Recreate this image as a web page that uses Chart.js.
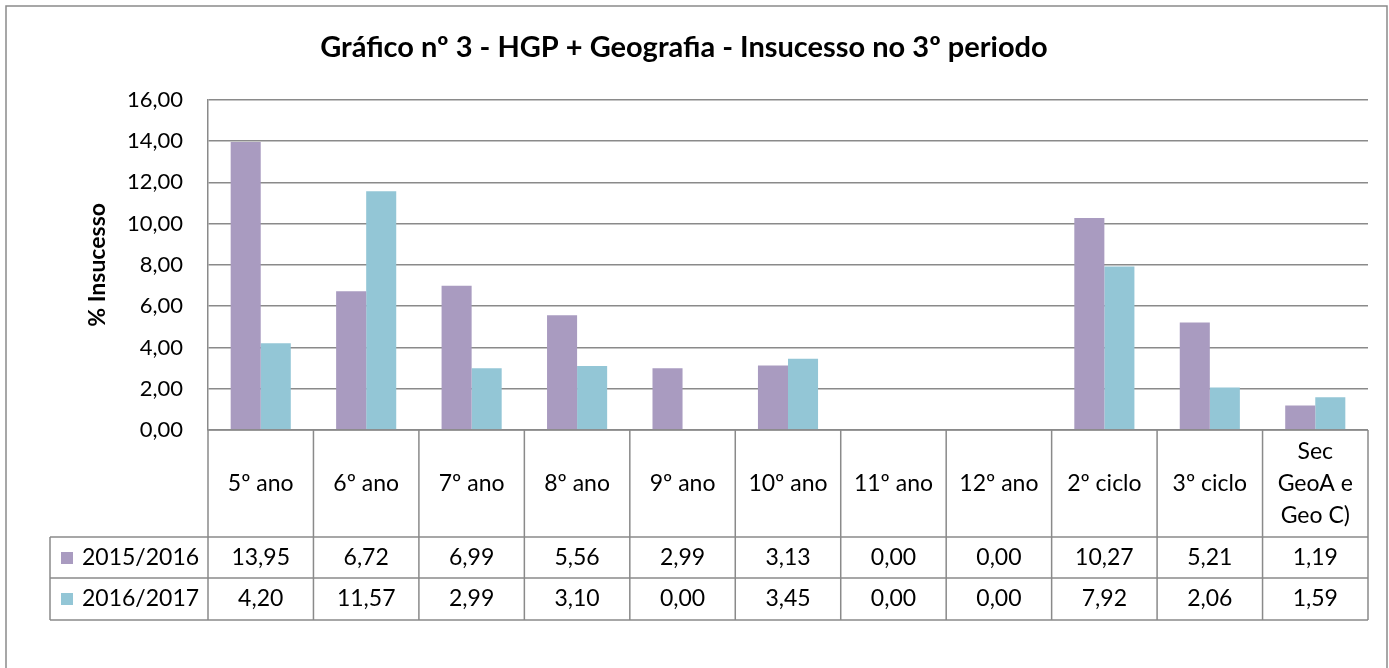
<!DOCTYPE html>
<html lang="pt">
<head>
<meta charset="UTF-8">
<title>Gráfico nº 3 - HGP + Geografia</title>
<style>
    body { margin: 0; padding: 0; background: #fff; }
    .container { width: 1389px; height: 668px; position: relative; }
</style>
</head>
<body>
<div class="container">
    <canvas id="grafico"></canvas>
</div>

<script src="https://cdn.jsdelivr.net/npm/chart.js"></script>
<script>
    const categorias = ['5º ano', '6º ano', '7º ano', '8º ano', '9º ano', '10º ano', '11º ano', '12º ano', '2º ciclo', '3º ciclo', ['Sec', 'GeoA e', 'Geo C)']];
    const serie2015 = [13.95, 6.72, 6.99, 5.56, 2.99, 3.13, 0.00, 0.00, 10.27, 5.21, 1.19];
    const serie2016 = [4.20, 11.57, 2.99, 3.10, 0.00, 3.45, 0.00, 0.00, 7.92, 2.06, 1.59];
    const nomesSeries = ['2015/2016', '2016/2017'];
    const coresSeries = ['#a99bc0', '#93c6d6'];

    const fonte = 'Lato, "Noto Sans", sans-serif';
    const corLinha = '#8a8a8a';

    function formatar(v) {
        return Number(v).toFixed(2).replace('.', ',');
    }

    // tabela de dados por baixo do gráfico (como no Excel)
    const tabelaDados = {
        id: 'tabelaDados',
        afterDraw(chart) {
            const ctx = chart.ctx;
            const x = chart.scales.x;
            const area = chart.chartArea;
            const n = categorias.length;
            const larg = (area.right - area.left) / n;
            const yTopo = area.bottom;
            const yCab = yTopo + 107;
            const yL1 = yCab + 41;
            const yL2 = yL1 + 42;
            const xLeg = 50;

            ctx.save();
            ctx.strokeStyle = corLinha;
            ctx.lineWidth = 1.5;
            ctx.beginPath();
            ctx.moveTo(area.left, yTopo); ctx.lineTo(area.right, yTopo);
            ctx.moveTo(xLeg, yCab); ctx.lineTo(area.right, yCab);
            ctx.moveTo(xLeg, yL1); ctx.lineTo(area.right, yL1);
            ctx.moveTo(xLeg, yL2); ctx.lineTo(area.right, yL2);
            ctx.moveTo(xLeg, yCab); ctx.lineTo(xLeg, yL2);
            for (let i = 0; i <= n; i++) {
                const xx = area.left + i * larg;
                ctx.moveTo(xx, yTopo); ctx.lineTo(xx, yL2);
            }
            ctx.stroke();

            ctx.fillStyle = '#000';
            ctx.font = '23px ' + fonte;
            ctx.textAlign = 'center';
            ctx.textBaseline = 'middle';
            categorias.forEach((c, i) => {
                const cx = x.getPixelForValue(i);
                const linhas = Array.isArray(c) ? c : [c];
                const meio = (yTopo + yCab) / 2;
                linhas.forEach((t, k) => {
                    ctx.fillText(t, cx, meio + (k - (linhas.length - 1) / 2) * 32);
                });
                ctx.fillText(formatar(serie2015[i]), cx, (yCab + yL1) / 2);
                ctx.fillText(formatar(serie2016[i]), cx, (yL1 + yL2) / 2);
            });

            // legenda dentro da tabela
            [yCab, yL1].forEach((y0, k) => {
                const cy = y0 + 21;
                ctx.fillStyle = coresSeries[k];
                ctx.fillRect(61, cy - 6, 12, 12);
                ctx.fillStyle = '#000';
                ctx.textAlign = 'left';
                ctx.fillText(nomesSeries[k], 82, cy);
            });

            // moldura exterior
            ctx.strokeStyle = corLinha;
            ctx.lineWidth = 1.5;
            ctx.strokeRect(6, 6, 1381, 720);
            ctx.restore();
        }
    };

    new Chart(document.getElementById('grafico'), {
        type: 'bar',
        data: {
            labels: categorias,
            datasets: [
                { label: nomesSeries[0], data: serie2015, backgroundColor: coresSeries[0] },
                { label: nomesSeries[1], data: serie2016, backgroundColor: coresSeries[1] }
            ]
        },
        options: {
            responsive: true,
            maintainAspectRatio: false,
            animation: false,
            categoryPercentage: 0.57,
            barPercentage: 1.0,
            layout: { padding: { left: 0, right: 21, top: 0, bottom: 238 } },
            plugins: {
                legend: { display: false },
                tooltip: { enabled: false },
                title: {
                    display: true,
                    text: 'Gráfico nº 3 - HGP + Geografia - Insucesso no 3º periodo',
                    color: '#000',
                    font: { family: fonte, size: 29, weight: 'bold' },
                    padding: { top: 30, bottom: 35 }
                }
            },
            scales: {
                x: { display: false },
                y: {
                    min: 0,
                    max: 16,
                    afterFit(scale) { scale.width = 208; },
                    border: { display: true, color: corLinha, width: 1.5 },
                    grid: { color: corLinha, lineWidth: 1.5, drawTicks: false },
                    ticks: {
                        stepSize: 2,
                        padding: 25,
                        color: '#000',
                        font: { family: fonte, size: 22 },
                        callback: v => formatar(v)
                    },
                    title: {
                        display: true,
                        text: '% Insucesso',
                        color: '#000',
                        font: { family: fonte, size: 23, weight: 'bold' },
                        padding: { top: 84 }
                    }
                }
            }
        },
        plugins: [tabelaDados]
    });
</script>
</body>
</html>
